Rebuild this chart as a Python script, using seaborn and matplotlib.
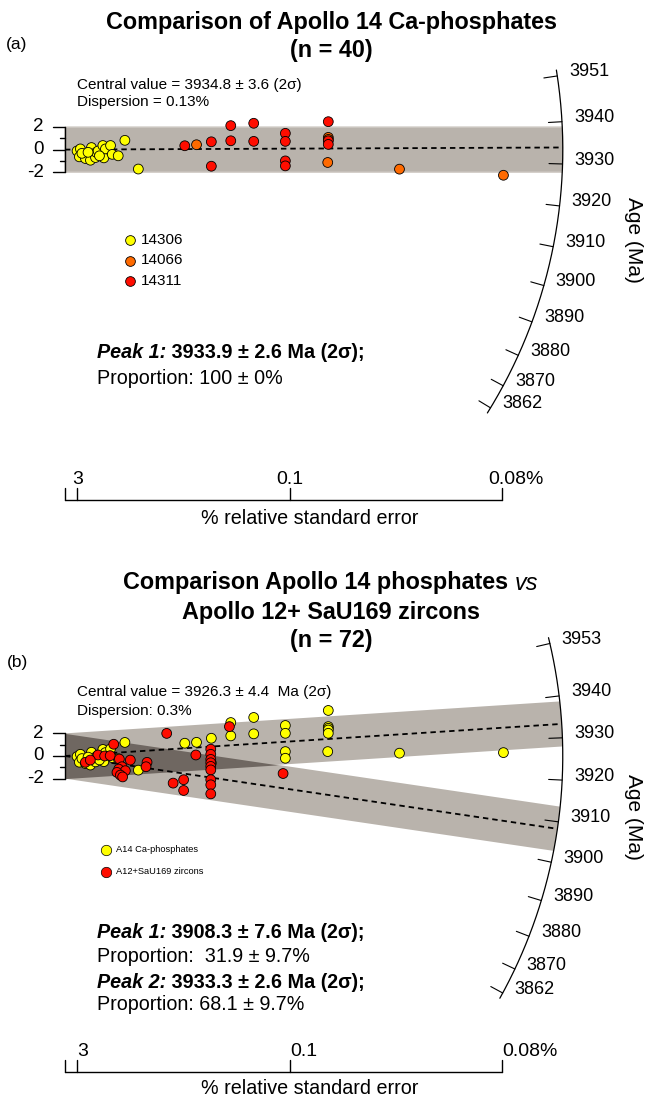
import numpy as np
import pandas as pd
import matplotlib
matplotlib.use("Agg")
import matplotlib.pyplot as plt
from matplotlib.lines import Line2D
from matplotlib.patches import Polygon
import seaborn as sns

sns.set_theme(style="white")
plt.rcParams['font.family'] = ['Liberation Sans', 'DejaVu Sans']
plt.rcParams['text.color'] = 'black'

# ---------------- data (radial-plot coordinates: precision x, standardised estimate z) ----------------
# Panel (a) - Apollo 14 Ca-phosphates by sample
a_14306_x = [1.07, 1.36, 1.27, 1.81, 2.25, 2.34, 2.70, 2.76, 2.93, 3.35, 3.44, 3.58, 4.03, 4.18, 4.71, 5.30, 6.49, 1.50, 2.04, 3.05]
a_14306_z = [-0.12, 0.06, -0.64, -0.79, -0.94, 0.18, -0.70, -0.24, -0.12, 0.36, -0.73, 0.06, 0.36, -0.42, -0.55, 0.82, -1.72, -0.33, -0.24, -0.55]
a_14066_x = [11.64, 23.30, 23.30, 23.25, 29.60, 38.80]
a_14066_z = [0.43, 1.08, 0.90, -1.14, -1.73, -2.27]
a_14311_x = [10.60, 12.95, 12.95, 14.67, 14.67, 16.70, 16.70, 19.50, 19.50, 19.50, 19.50, 23.30, 23.30, 23.30]
a_14311_z = [0.34, 0.69, -1.47, 2.12, 0.78, 2.33, 0.73, 1.44, 0.73, -1.00, -1.44, 2.47, 0.78, 0.46]

# Panel (b) - A14 Ca-phosphates vs A12+SaU169 zircons
b_phos_x = [1.07, 1.36, 1.27, 1.81, 2.25, 2.34, 2.70, 2.76, 2.93, 3.35, 3.44, 3.58, 4.03, 4.18, 4.71, 5.30, 6.49, 1.50, 2.04, 3.05,
            11.64, 23.30, 23.30, 23.25, 29.60, 38.80, 10.60, 12.95, 12.95, 14.67, 14.67, 16.70, 16.70, 19.50, 19.50, 19.50, 19.50,
            23.30, 23.30, 23.30]
b_phos_z = [-0.05, 0.15, -0.55, -0.67, -0.80, 0.33, -0.52, -0.06, 0.07, 0.58, -0.50, 0.30, 0.63, -0.14, -0.24, 1.20, -1.25, -0.23, -0.10, -0.35,
            1.21, 2.60, 2.45, 0.39, 0.25, 0.30, 1.13, 1.57, -0.62, 2.96, 1.78, 3.41, 1.96, 2.70, 2.01, 0.39, -0.20,
            4.03, 2.30, 2.01]
b_zirc_x = [4.31, 2.92, 3.51, 4.00, 1.80, 2.24, 4.81, 5.78, 7.26, 7.17, 5.04, 4.75, 5.34, 4.60, 4.90, 5.10,
            9.00, 9.57, 10.50, 10.50, 11.58, 12.90, 12.90, 12.90, 12.90, 12.90, 12.90, 12.90, 12.90, 12.90, 14.55, 19.30]
b_zirc_z = [1.04, 0.09, 0.00, 0.03, -0.56, -0.36, -0.27, -0.36, -0.56, -0.95, -0.95, -1.16, -1.30, -1.45, -1.69, -1.85,
            2.00, -2.40, -2.10, -3.05, 0.09, 0.60, 0.15, -0.30, -0.60, -0.92, -1.23, -2.10, -2.55, -3.35, 2.60, -1.55]

a_samples = ['14306', '14066', '14311']
a_colors = ['#ffff00', '#ff6a00', '#ff0d00']
b_groups = ['A14 Ca-phosphates', 'A12+SaU169 zircons']
b_colors = ['#ffff00', '#ff0d00']

# age (arc) scale
a_t0, b_t0 = 3933.4, 3925.7          # reference age of the horizontal direction
age_k = 0.0085                       # slope per Ma
arc_R = 44.05                        # arc radius (precision units)
a_arc_ticks = [3951, 3940, 3930, 3920, 3910, 3900, 3890, 3880, 3870, 3862]
b_arc_ticks = [3953, 3940, 3930, 3920, 3910, 3900, 3890, 3880, 3870, 3862]
a_peaks = [3933.9]
b_peaks = [3908.3, 3933.3]

prec_ticks = [1.10, 19.9, 38.67]
prec_labels = ['3', '0.1', '0.08%']
z_ticks = [-2, -1, 0, 1, 2]
z_labels = {-2: '-2', 0: '0', 2: '2'}

# ---------------- layout ----------------
PX_W, PX_H = 646, 1100
U = 11.3  # pixels per unit
fig = plt.figure(figsize=(PX_W / 100, PX_H / 100), dpi=100)
fig.patch.set_facecolor('white')
renderer = fig.canvas.get_renderer()


def fx(px):
    return px / PX_W


def fy(py):
    return 1 - py / PX_H


def make_axes(top_px, bot_px, ox, oy):
    ax = fig.add_axes([0, fy(bot_px), 1, (bot_px - top_px) / PX_H])
    ax.set_xlim((0 - ox) / U, (PX_W - ox) / U)
    ax.set_ylim((oy - bot_px) / U, (oy - top_px) / U)
    ax.axis('off')
    return ax


def rich(px, py, parts, size, ha='left'):
    texts, widths = [], []
    for s, w, st in parts:
        t = fig.text(0, 0, s, size=size, weight=w, style=st, va='center', ha='left', color='black')
        widths.append(t.get_window_extent(renderer=renderer).width)
        texts.append(t)
    x0 = px - sum(widths) / 2 if ha == 'center' else px
    for t, wd in zip(texts, widths):
        t.set_position((fx(x0), fy(py)))
        x0 += wd


def band_polygon(s, half=2.0, n=80):
    def hit(c):
        A = 1 + s * s
        B = 2 * s * c
        C = c * c - arc_R * arc_R
        x = (-B + np.sqrt(B * B - 4 * A * C)) / (2 * A)
        return x, s * x + c
    xl, zl = hit(-half)
    xu, zu = hit(half)
    th = np.linspace(np.arctan2(zl, xl), np.arctan2(zu, xu), n)
    pts = [(0, -half), (xl, zl)] + list(zip(arc_R * np.cos(th), arc_R * np.sin(th))) + [(xu, zu), (0, half)]
    return np.array(pts)


BAND = '#b9b3ac'
DARK = '#6f6761'


def draw_common(ax, t0, arc_ticks, axis_z, label_align):
    # arc
    th = np.arctan(age_k * (np.array(arc_ticks) - t0))
    tt = np.linspace(th.min() - 0.012, th.max() + 0.012, 300)
    ax.plot(arc_R * np.cos(tt), arc_R * np.sin(tt), color='black', lw=0.9, zorder=4)
    for t, a in zip(arc_ticks, th):
        ax.plot([(arc_R - 1.2) * np.cos(a), arc_R * np.cos(a)],
                [(arc_R - 1.2) * np.sin(a), arc_R * np.sin(a)], color='black', lw=0.8, zorder=4)
        ax.text(arc_R * np.cos(a) + 1.05, arc_R * np.sin(a) + 0.35, str(t), size=13,
                ha='left', va='center', color='black')
    # z scale
    ax.plot([0, 0], [-2, 2], color='black', lw=1.0, zorder=4)
    for z in z_ticks:
        ln = 12 / U if z in z_labels else 5 / U
        ax.plot([-ln, 0], [z, z], color='black', lw=1.0, zorder=4)
        if z in z_labels:
            ax.text(-21 / U, z, z_labels[z], size=13.5, ha='right', va='center', color='black')
    # precision scale
    ax.plot([0, prec_ticks[-1]], [axis_z, axis_z], color='black', lw=1.0)
    for xt in [0] + prec_ticks:
        ax.plot([xt, xt], [axis_z, axis_z + 12 / U], color='black', lw=1.0)
    for xt, lab in zip(prec_ticks, prec_labels):
        if label_align == 'center':
            if lab.endswith('%'):
                ax.text(xt - 14 / U, axis_z + 20 / U, lab, size=14, ha='left', va='center', color='black')
            else:
                ax.text(xt, axis_z + 20 / U, lab, size=14, ha='center', va='center', color='black')
        else:
            ax.text(xt, axis_z + 20 / U, lab, size=14, ha='left', va='center', color='black')


# ================= panel (a) =================
axA = make_axes(0, 545, 65, 149.6)
axA.add_patch(Polygon(band_polygon(0.0), closed=True, facecolor=BAND, edgecolor='#d2cdc8', lw=1.0, zorder=1))
s = age_k * (a_peaks[0] - a_t0)
xe = arc_R / np.sqrt(1 + s * s)
axA.plot([0, xe], [0, s * xe], color='black', lw=1.3, ls=(0, (3, 2.2)), zorder=3)
draw_common(axA, a_t0, a_arc_ticks, (149.6 - 500) / U, 'center')

df_a = pd.concat([
    pd.DataFrame({'x': a_14306_x, 'z': a_14306_z, 'sample': '14306'}),
    pd.DataFrame({'x': a_14066_x, 'z': a_14066_z, 'sample': '14066'}),
    pd.DataFrame({'x': a_14311_x, 'z': a_14311_z, 'sample': '14311'}),
], ignore_index=True)
sns.scatterplot(data=df_a, x='x', y='z', hue='sample', hue_order=a_samples,
                palette=dict(zip(a_samples, a_colors)), s=50, edgecolor='black',
                linewidth=0.6, legend=False, ax=axA, zorder=5)
axA.set_xlim((0 - 65) / U, (PX_W - 65) / U)
axA.set_ylim((149.6 - 545) / U, 149.6 / U)
axA.axis('off')

rich(331, 22, [('Comparison of Apollo 14 Ca-phosphates', 'bold', 'normal')], 16.8, ha='center')
rich(331, 50, [('(n = 40)', 'bold', 'normal')], 16.8, ha='center')
fig.text(fx(17), fy(45), '(a)', size=12.5, ha='center', va='center')
fig.text(fx(77), fy(85), 'Central value = 3934.8 ± 3.6 (2σ)', size=11, ha='left', va='center')
fig.text(fx(77), fy(102), 'Dispersion = 0.13%', size=11, ha='left', va='center')
for i, (lab, col) in enumerate(zip(a_samples, a_colors)):
    yy = 240 + 20.5 * i
    fig.add_artist(Line2D([fx(130)], [fy(yy)], transform=fig.transFigure, marker='o', ls='',
                          ms=7, mfc=col, mec='black', mew=0.6))
    fig.text(fx(141), fy(yy), lab, size=11, ha='left', va='center')
rich(97, 353, [('Peak 1:', 'bold', 'italic'), (' 3933.9 ± 2.6 Ma (2σ);', 'bold', 'normal')], 14.2)
rich(97, 379, [('Proportion: 100 ± 0%', 'normal', 'normal')], 14.2)
fig.text(fx(310), fy(518), '% relative standard error', size=14.2, ha='center', va='center')
fig.text(fx(634), fy(240), 'Age (Ma)', size=15, rotation=-90, ha='center', va='center')

# ================= panel (b) =================
axB = make_axes(545, 1100, 65, 756)
slopes = [age_k * (p - b_t0) for p in b_peaks]
for sl in slopes:
    axB.add_patch(Polygon(band_polygon(sl), closed=True, facecolor=BAND, edgecolor='none', zorder=1))
s_lo, s_up = min(slopes), max(slopes)
xs = 4 / (s_up - s_lo)
xx = np.linspace(0, xs, 100)
axB.fill_between(xx, s_up * xx - 2, s_lo * xx + 2, color=DARK, lw=0, zorder=2)
for sl in slopes:
    xe = arc_R / np.sqrt(1 + sl * sl)
    axB.plot([0, xe], [0, sl * xe], color='black', lw=1.3, ls=(0, (3, 2.2)), zorder=3)
draw_common(axB, b_t0, b_arc_ticks, (756 - 1072) / U, 'left')

df_b = pd.concat([
    pd.DataFrame({'x': b_phos_x, 'z': b_phos_z, 'group': b_groups[0]}),
    pd.DataFrame({'x': b_zirc_x, 'z': b_zirc_z, 'group': b_groups[1]}),
], ignore_index=True)
sns.scatterplot(data=df_b, x='x', y='z', hue='group', hue_order=b_groups,
                palette=dict(zip(b_groups, b_colors)), s=50, edgecolor='black',
                linewidth=0.6, legend=False, ax=axB, zorder=5)
axB.set_xlim((0 - 65) / U, (PX_W - 65) / U)
axB.set_ylim((756 - 1100) / U, (756 - 545) / U)
axB.axis('off')

rich(331, 583, [('Comparison Apollo 14 phosphates ', 'bold', 'normal'), ('vs', 'normal', 'italic')], 16.8, ha='center')
rich(331, 612, [('Apollo 12+ SaU169 zircons', 'bold', 'normal')], 16.8, ha='center')
rich(331, 640, [('(n = 72)', 'bold', 'normal')], 16.8, ha='center')
fig.text(fx(17), fy(663), '(b)', size=12.5, ha='center', va='center')
fig.text(fx(77), fy(692), 'Central value = 3926.3 ± 4.4  Ma (2σ)', size=11, ha='left', va='center')
fig.text(fx(77), fy(711), 'Dispersion: 0.3%', size=11, ha='left', va='center')
for i, (lab, col) in enumerate(zip(b_groups, b_colors)):
    yy = 850 + 22 * i
    fig.add_artist(Line2D([fx(106)], [fy(yy)], transform=fig.transFigure, marker='o', ls='',
                          ms=7.5, mfc=col, mec='black', mew=0.5))
    fig.text(fx(116), fy(yy), lab, size=6.7, ha='left', va='center')
rich(97, 933, [('Peak 1:', 'bold', 'italic'), (' 3908.3 ± 7.6 Ma (2σ);', 'bold', 'normal')], 14.2)
rich(97, 957, [('Proportion:  31.9 ± 9.7%', 'normal', 'normal')], 14.2)
rich(97, 982, [('Peak 2:', 'bold', 'italic'), (' 3933.3 ± 2.6 Ma (2σ);', 'bold', 'normal')], 14.2)
rich(97, 1005, [('Proportion: 68.1 ± 9.7%', 'normal', 'normal')], 14.2)
fig.text(fx(310), fy(1088), '% relative standard error', size=14.2, ha='center', va='center')
fig.text(fx(633), fy(817), 'Age (Ma)', size=15, rotation=-90, ha='center', va='center')

fig.savefig('out.png', dpi=100, facecolor='white')
